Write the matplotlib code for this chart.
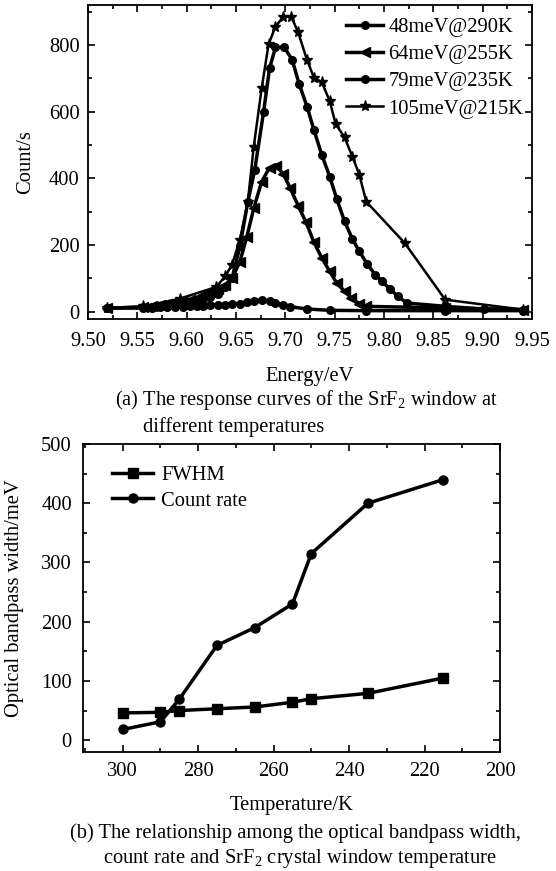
import matplotlib
matplotlib.use("Agg")
import matplotlib.pyplot as plt
from matplotlib.ticker import MultipleLocator, FormatStrFormatter

plt.rcParams['font.family'] = ['Liberation Serif', 'DejaVu Serif']
plt.rcParams['mathtext.fontset'] = 'custom'
plt.rcParams['mathtext.rm'] = 'Liberation Serif'

# ---------------- data: panel (a) ----------------
x_48 = [9.519, 9.556, 9.565, 9.573, 9.580, 9.588, 9.596, 9.603, 9.610, 9.617, 9.624, 9.632,
        9.639, 9.646, 9.654, 9.661, 9.668, 9.676, 9.684, 9.690, 9.698, 9.705, 9.722, 9.745,
        9.782, 9.862, 9.941]
y_48 = [11, 11, 12, 13, 13, 14, 15, 16, 17, 18, 19, 20,
        21, 22, 24, 28, 32, 35, 33, 26, 20, 15, 8, 4,
        3, 3, 3]

x_64 = [9.519, 9.556, 9.565, 9.573, 9.580, 9.588, 9.596, 9.603, 9.610, 9.617, 9.624, 9.632,
        9.639, 9.646, 9.654, 9.661, 9.668, 9.676, 9.684, 9.6905, 9.698, 9.705, 9.713, 9.721,
        9.729, 9.737, 9.745, 9.752, 9.760, 9.767, 9.775, 9.782, 9.862, 9.941]
y_64 = [11, 13, 16, 19, 22, 26, 30, 35, 42, 50, 58, 68,
        80, 100, 150, 225, 310, 390, 432, 438, 413, 370, 318, 268,
        208, 161, 121, 86, 61, 41, 24, 16, 11, 6]

x_79 = [9.519, 9.556, 9.565, 9.573, 9.580, 9.588, 9.596, 9.603, 9.610, 9.617, 9.624, 9.632,
        9.639, 9.646, 9.654, 9.662, 9.669, 9.678, 9.684, 9.690, 9.699, 9.707, 9.714, 9.722,
        9.729, 9.737, 9.745, 9.752, 9.760, 9.768, 9.775, 9.783, 9.791, 9.798, 9.806, 9.814,
        9.823, 9.862, 9.901, 9.941]
y_79 = [11, 13, 15, 17, 19, 21, 24, 27, 32, 38, 45, 52,
        75, 100, 196, 330, 425, 600, 730, 793, 793, 755, 683, 615,
        545, 470, 405, 339, 271, 218, 181, 143, 111, 91, 68, 46,
        26, 16, 8, 6]

x_105 = [9.519, 9.556, 9.593, 9.630, 9.639, 9.646, 9.654, 9.662, 9.668, 9.676, 9.683, 9.690,
         9.698, 9.706, 9.713, 9.722, 9.729, 9.737, 9.745, 9.751, 9.760, 9.768, 9.775, 9.782,
         9.821, 9.862, 9.941]
y_105 = [11, 16, 39, 74, 106, 141, 216, 330, 495, 670, 802, 855,
         885, 885, 838, 755, 702, 688, 632, 563, 523, 465, 411, 330,
         206, 36, 6]

labels_a = ["48meV@290K", "64meV@255K", "79meV@235K", "105meV@215K"]

# ---------------- data: panel (b) ----------------
temps = [300, 290, 285, 275, 265, 255, 250, 235, 215]
fwhm = [46, 47, 50, 53, 56, 64, 70, 79, 105]
count_rate = [18, 31, 69, 160, 190, 230, 315, 400, 440]
labels_b = ["FWHM", "Count rate"]

W, H = 556, 871
fig = plt.figure(figsize=(W / 100, H / 100), dpi=100)


def ax_rect(l, t, r, b):
    return [l / W, 1 - b / H, (r - l) / W, (b - t) / H]


FS = 14.8

def style(ax, xpad, ypad):
    ax.tick_params(which='both', direction='in', top=True, right=True, labelsize=FS,
                   width=1.2)
    ax.tick_params(axis='x', pad=xpad)
    ax.tick_params(axis='y', pad=ypad)
    ax.tick_params(which='major', length=5)
    ax.tick_params(which='minor', length=3)
    for s in ax.spines.values():
        s.set_linewidth(1.3)


# ---------------- panel (a) ----------------
ax1 = fig.add_axes(ax_rect(88, 5, 532, 319))
lw = 2.5
ax1.plot(x_48, y_48, '-', marker='o', color='black', lw=lw, ms=5.5, label=labels_a[0])
ax1.plot(x_64, y_64, '-', marker='<', color='black', lw=lw, ms=6.5, label=labels_a[1])
ax1.plot(x_79, y_79, '-', marker='o', color='black', lw=lw, ms=5.5, label=labels_a[2])
ax1.plot(x_105, y_105, '-', marker='*', color='black', lw=1.8, ms=8, label=labels_a[3])
ax1.set_xlim(9.50, 9.95)
ax1.set_ylim(-22, 920)
ax1.xaxis.set_major_locator(MultipleLocator(0.05))
ax1.xaxis.set_minor_locator(MultipleLocator(0.025))
ax1.yaxis.set_major_locator(MultipleLocator(200))
ax1.yaxis.set_minor_locator(MultipleLocator(100))
ax1.xaxis.set_major_formatter(FormatStrFormatter('%.2f'))
style(ax1, 9, 6)
ax1.set_xlabel("Energy/eV", fontsize=FS, labelpad=12)
ax1.set_ylabel("Count/s", fontsize=FS, labelpad=10)
ax1.legend(loc='upper left', bbox_to_anchor=((346 - 88) / 444, 0.96), frameon=False,
           fontsize=FS, handlelength=1.8, handletextpad=0.25, labelspacing=0.38,
           borderaxespad=0.0, borderpad=0.0)

fig.text(115 / W, 1 - 400 / H, "(a) The response curves of the SrF$_2$ window at",
         fontsize=FS, ha='left', va='center')
fig.text(143 / W, 1 - 427 / H, "different temperatures",
         fontsize=FS, ha='left', va='center')

# ---------------- panel (b) ----------------
ax2 = fig.add_axes(ax_rect(83, 444, 500, 752))
ax2.plot(temps, fwhm, '-', marker='s', color='black', lw=2.5, ms=6.5, label=labels_b[0])
ax2.plot(temps, count_rate, '-', marker='o', color='black', lw=2.5, ms=6.5, label=labels_b[1])
ax2.set_xlim(310.5, 200)
ax2.set_ylim(-20, 500)
ax2.xaxis.set_major_locator(MultipleLocator(20))
ax2.xaxis.set_minor_locator(MultipleLocator(10))
ax2.yaxis.set_major_locator(MultipleLocator(100))
ax2.yaxis.set_minor_locator(MultipleLocator(50))
style(ax2, 7, 8)
ax2.set_xlabel("Temperature/K", fontsize=FS, labelpad=11)
ax2.set_ylabel("Optical bandpass width/meV", fontsize=FS, labelpad=12)
ax2.legend(loc='upper left', bbox_to_anchor=(0.04, 0.97), frameon=False, fontsize=FS,
           handlelength=2.0, handletextpad=0.4, labelspacing=0.3, borderaxespad=0.2)

fig.text(295 / W, 1 - 833 / H, "(b) The relationship among the optical bandpass width,",
         fontsize=FS, ha='center', va='center')
fig.text(300 / W, 1 - 858 / H, "count rate and SrF$_2$ crystal window temperature",
         fontsize=FS, ha='center', va='center')

fig.savefig("out.png", dpi=100)
